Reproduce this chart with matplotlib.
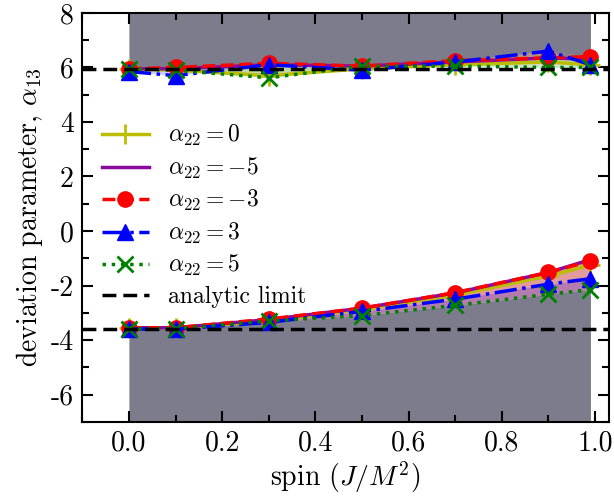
import numpy as np
import matplotlib
matplotlib.use("Agg")
import matplotlib.pyplot as plt
from matplotlib.ticker import MultipleLocator

plt.rcParams['font.family'] = 'serif'
plt.rcParams['font.serif'] = ['cmr10']
plt.rcParams['mathtext.fontset'] = 'cm'
plt.rcParams['axes.unicode_minus'] = False
plt.rcParams['axes.formatter.use_mathtext'] = True

spin = [0.0, 0.1, 0.3, 0.5, 0.7, 0.9, 0.99]

# upper branch
up_a0 = [5.95, 5.9, 5.7, 5.95, 6.1, 6.2, 6.1]
up_m5 = [5.95, 5.95, 6.1, 6.05, 6.2, 6.35, 6.3]
up_m3 = [5.95, 6.0, 6.15, 6.05, 6.25, 6.35, 6.4]
up_p3 = [5.85, 5.7, 6.1, 5.9, 6.2, 6.6, 6.1]
up_p5 = [5.95, 5.9, 5.62, 6.05, 6.05, 6.0, 6.0]

# lower branch
lo_a0 = [-3.55, -3.55, -3.3, -2.88, -2.35, -1.65, -1.25]
lo_m5 = [-3.55, -3.55, -3.25, -2.83, -2.27, -1.52, -1.05]
lo_m3 = [-3.55, -3.55, -3.23, -2.83, -2.26, -1.52, -1.1]
lo_p3 = [-3.6, -3.6, -3.35, -2.95, -2.5, -1.95, -1.75]
lo_p5 = [-3.6, -3.58, -3.3, -3.1, -2.73, -2.32, -2.15]

limit_up = 5.95
limit_lo = -3.6

labels = [r'$\alpha_{22} = 0$', r'$\alpha_{22} = {-5}$', r'$\alpha_{22} = {-3}$',
          r'$\alpha_{22} = 3$', r'$\alpha_{22} = 5$']
colors = ['#bdbd00', '#8b0a9e', 'red', 'blue', 'green']
styles = [dict(ls='-', marker='+', ms=14, mew=2),
          dict(ls='-', marker=None),
          dict(ls='--', marker='o', ms=11),
          dict(ls='-.', marker='^', ms=11),
          dict(ls=':', marker='x', ms=11, mew=2)]

fig = plt.figure(figsize=(6.14, 4.98), dpi=100)
ax = fig.add_axes([0.134, 0.153, 0.858, 0.821])

ups = [up_a0, up_m5, up_m3, up_p3, up_p5]
los = [lo_a0, lo_m5, lo_m3, lo_p3, lo_p5]
x = np.array(spin)
up_max = np.max(ups, axis=0)
lo_min = np.min(los, axis=0)
gray = '#7d7c8c'
ax.fill_between(x, up_max, 8, color=gray, lw=0, zorder=1)
ax.fill_between(x, -7, lo_min, color=gray, lw=0, zorder=1)
for c, u, l in zip(colors, ups, los):
    ax.fill_between(x, u, up_max, color=c, alpha=0.2, lw=0, zorder=1)
    ax.fill_between(x, lo_min, l, color=c, alpha=0.2, lw=0, zorder=1)

for lab, c, st, u, l in zip(labels, colors, styles, ups, los):
    ax.plot(spin, u, color=c, lw=2.5, label=lab, zorder=3, **st)
    ax.plot(spin, l, color=c, lw=2.5, zorder=3, **st)

ax.axhline(limit_up, color='black', ls='--', lw=2.5, dashes=(4, 2), zorder=4,
           label='analytic limit')
ax.axhline(limit_lo, color='black', ls='--', lw=2.5, dashes=(4, 2), zorder=4)

ax.set_xlim(-0.1, 1.03)
ax.set_ylim(-7, 8)
ax.set_xticks([0.0, 0.2, 0.4, 0.6, 0.8, 1.0])
ax.set_xticklabels(['0.0', '0.2', '0.4', '0.6', '0.8', '1.0'])
ax.set_yticks([-6, -4, -2, 0, 2, 4, 6, 8])
ax.set_yticklabels(['-6', '-4', '-2', '0', '2', '4', '6', '8'])
ax.xaxis.set_minor_locator(MultipleLocator(0.1))
ax.yaxis.set_minor_locator(MultipleLocator(1))
ax.tick_params(which='both', direction='in', top=True, right=True, labelsize=20, width=1.5)
ax.tick_params(which='major', length=8, pad=6)
ax.tick_params(which='minor', length=5)
for s in ax.spines.values():
    s.set_linewidth(1.5)

ax.set_xlabel(r'spin $(J/M^2)$', fontsize=20, labelpad=2)
ax.set_ylabel(r'deviation parameter, $\alpha_{13}$', fontsize=20, labelpad=4)

ax.legend(loc='upper left', bbox_to_anchor=(0.01, 0.765), frameon=False, fontsize=17,
          handlelength=2.0, labelspacing=0.32, handletextpad=0.8, borderaxespad=0.2)

fig.savefig('out.png', dpi=100)
